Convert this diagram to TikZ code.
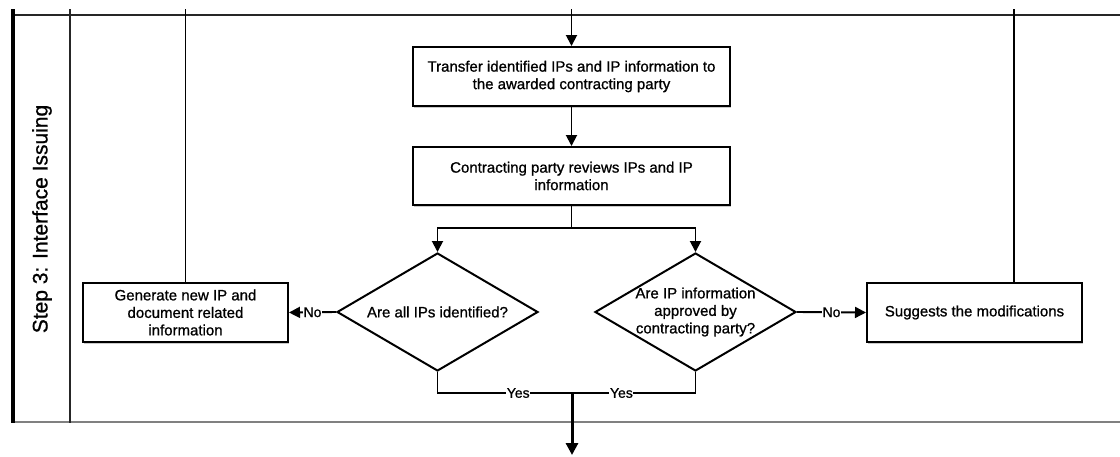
\documentclass[tikz,border=0pt]{standalone}
\usepackage{fontspec}
\setmainfont{Liberation Sans}
% slightly heavier rendering of the regular face
\newfontfamily\heavyfont{Liberation Sans}[BoldFont={Liberation Sans}, BoldFeatures={FakeBold=0.9}]
\usetikzlibrary{arrows.meta,shapes.geometric,shadows}

\tikzset{
  procbox/.style={draw=black, line width=2pt, fill=white, rectangle,
    align=center, inner sep=2pt,
    drop shadow={shadow xshift=1pt, shadow yshift=-1.5pt, fill=black!35, opacity=0.6},
    font=\heavyfont\bfseries\fontsize{15}{17.5}\selectfont},
  decision/.style={draw=black, line width=2pt, fill=white, diamond,
    inner sep=0pt, minimum width=201pt, minimum height=118pt},
  qtext/.style={align=center, inner sep=0pt, font=\heavyfont\bfseries\fontsize{15}{17.5}\selectfont},
  conn/.style={draw=black, line width=1.9pt},
  arr/.style={conn, -{Triangle[length=11pt,width=11pt]}},
  bigarr/.style={draw=black, line width=3pt, -{Triangle[length=12pt,width=12pt]}},
  edgelabel/.style={fill=white, inner sep=0.5pt, font=\heavyfont\bfseries\fontsize{14}{16}\selectfont},
  lane/.style={draw=black!85, line width=2.2pt},
}

\begin{document}
\begin{tikzpicture}[x=1pt, y=-1pt]
\useasboundingbox (0,0) rectangle (1120,456);

% pool frame
\draw[lane] (13,15) -- (1120,15);
\draw[draw=black!50, line width=2.2pt] (13,422) -- (1120,422);
\draw[draw=black, line width=3.2pt] (13,9) -- (13,423);
\draw[lane] (70,9) -- (70,423);

% phase title
\node[rotate=90, font=\heavyfont\bfseries\fontsize{21}{24}\selectfont] (phase) at (42,219) {Step 3: Interface Issuing};

% activities
\node[procbox, minimum width=317pt, minimum height=59pt] (transfer) at (571.5,76.5)
  {Transfer identified IPs and IP information to\\the awarded contracting party};
\node[procbox, minimum width=317pt, minimum height=58pt] (review) at (571.5,176)
  {Contracting party reviews IPs and IP\\information};
\node[procbox, minimum width=205pt, minimum height=59pt] (gen) at (185.5,312.5)
  {Generate new IP and\\document related\\information};
\node[procbox, minimum width=215pt, minimum height=59pt] (sugg) at (974.5,312.5)
  {Suggests the modifications};

% decisions
\node[decision] (d1) at (437.5,312) {};
\node[qtext] (q1) at (d1.center) {Are all IPs identified?};
\node[decision] (d2) at (695.5,312) {};
\node[qtext] (q2) at (d2.center) {Are IP information\\approved by\\contracting party?};

% helper points
\coordinate (intop) at (571.5,9);
\coordinate (split) at (571.5,228);
\coordinate (join) at (572,393);
\coordinate (out) at (572,455);
\coordinate (gentop) at (185.5,9);
\coordinate (suggtop) at (1014,9);

% flow
\draw[arr] (intop) -- (transfer.north);
\draw[arr] (transfer.south) -- (review.north);
\draw[conn] (review.south) -- (split);
\draw[arr] (split) -| (d1.north);
\draw[arr] (split) -| (d2.north);

\draw[arr] (d1.west) -- node[edgelabel] {No} (gen.east);
\draw[arr] (d2.east) -- node[edgelabel] {No} (sugg.west);

\draw[conn] (d1.south) |- node[edgelabel, pos=0.8] {Yes} (join);
\draw[conn] (d2.south) |- node[edgelabel, pos=0.8] {Yes} (join);
\draw[bigarr] (join) -- (out);

% returns upward to the lanes above
\draw[conn] (gen.north) -- (gentop);
\draw[conn] (suggtop |- sugg.north) -- (suggtop);
\end{tikzpicture}
\end{document}
